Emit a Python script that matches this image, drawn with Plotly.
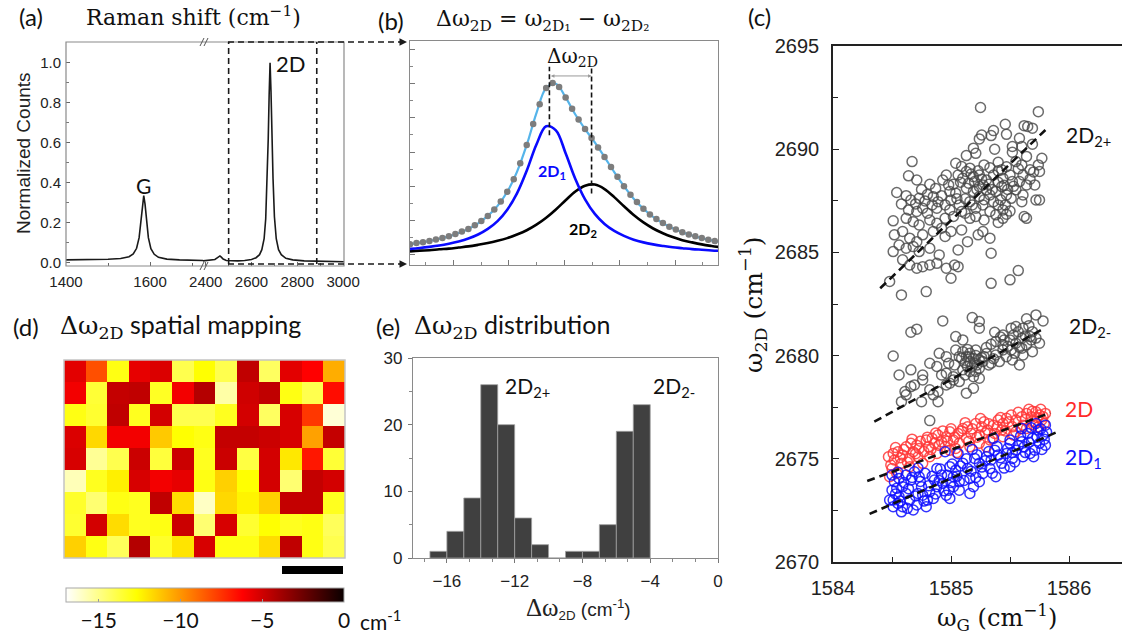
import plotly.graph_objects as go

W, H = 1122, 640


def px(x):
    return x / W


def py(y):
    return 1 - y / H


SANS = "Lato"
ARIAL = "Liberation Sans"
SERIF = "DejaVu Serif"

# ---------------- (a) Raman spectrum (broken x axis) ----------------
SPEC_LOW_X = [1400, 1450, 1500, 1530, 1550, 1560, 1568, 1574, 1578, 1582, 1585,
              1588, 1592, 1596, 1602, 1610, 1620, 1640, 1670, 1700, 1726]
SPEC_LOW_Y = [0.014, 0.015, 0.017, 0.021, 0.030, 0.044, 0.072, 0.125, 0.195, 0.294, 0.335,
              0.294, 0.195, 0.125, 0.070, 0.042, 0.027, 0.018, 0.014, 0.012, 0.011]
SPEC_HIGH_X = [2388, 2420, 2440, 2450, 2456, 2462, 2468, 2476, 2490, 2510, 2540, 2570,
               2600, 2620, 2635, 2645, 2655, 2662, 2668, 2673, 2677, 2681, 2685, 2689,
               2694, 2700, 2708, 2718, 2730, 2750, 2780, 2830, 2900, 3004]
SPEC_HIGH_Y = [0.009, 0.011, 0.016, 0.024, 0.031, 0.034, 0.028, 0.018, 0.011, 0.009, 0.009, 0.011,
               0.016, 0.025, 0.040, 0.065, 0.12, 0.22, 0.40, 0.62, 0.84, 1.00, 0.86, 0.64,
               0.42, 0.23, 0.12, 0.065, 0.040, 0.022, 0.014, 0.009, 0.006, 0.005]
ZOOM_WINDOW = [2500, 2885]

# ---------------- (b) 2D band fit ----------------
PB_X = list(range(2630, 2727, 3))
BLUE_Y = [0.072, 0.076, 0.081, 0.087, 0.095, 0.105, 0.118, 0.136, 0.161, 0.196, 0.247,
          0.320, 0.421, 0.538, 0.619, 0.601, 0.499, 0.384, 0.293, 0.228, 0.183, 0.152,
          0.130, 0.113, 0.101, 0.092, 0.085, 0.079, 0.075, 0.071, 0.068, 0.065, 0.063]
BLACK_Y = [0.061, 0.064, 0.066, 0.070, 0.073, 0.078, 0.083, 0.090, 0.098, 0.108, 0.120,
           0.136, 0.155, 0.180, 0.211, 0.248, 0.289, 0.328, 0.354, 0.359, 0.339, 0.303,
           0.262, 0.223, 0.190, 0.163, 0.142, 0.125, 0.111, 0.101, 0.092, 0.085, 0.079]
FIT_SUM_Y = [0.093, 0.100, 0.107, 0.117, 0.128, 0.143, 0.161, 0.186, 0.219, 0.264, 0.327,
             0.416, 0.536, 0.678, 0.790, 0.809, 0.748, 0.672, 0.607, 0.547, 0.482, 0.415,
             0.352, 0.296, 0.251, 0.215, 0.187, 0.164, 0.146, 0.132, 0.120, 0.110, 0.102]
DOT_X = list(range(2630, 2725, 2))
DOT_Y = [0.093, 0.098, 0.102, 0.107, 0.114, 0.121, 0.128, 0.138, 0.149, 0.161,
         0.177, 0.196, 0.219, 0.248, 0.283, 0.327, 0.383, 0.454, 0.536, 0.630,
         0.718, 0.790, 0.812, 0.795, 0.748, 0.697, 0.650, 0.607, 0.567, 0.525,
         0.482, 0.437, 0.394, 0.352, 0.314, 0.281, 0.251, 0.226, 0.205, 0.187,
         0.171, 0.158, 0.146, 0.136, 0.128, 0.120, 0.113, 0.107]
PEAK_POS = [2673, 2686]
PEAK_HEIGHT = [0.619, 0.359]
MARK_TOP = 0.885
ARROW_LEVEL = 0.844

# ---------------- (c) w2D vs wG ----------------
PTS_2D2_PLUS = [
    (1585.25, 2692.02), (1585.74, 2691.82), (1585.46, 2691.21), (1585.62, 2691.14), (1585.69, 2691.02),
    (1585.65, 2691.10), (1585.36, 2690.90), (1585.26, 2690.69), (1585.34, 2690.66), (1585.47, 2690.72),
    (1585.58, 2690.53), (1585.24, 2690.50), (1585.52, 2690.13), (1585.69, 2690.24), (1585.37, 2690.00),
    (1585.19, 2690.05), (1585.60, 2690.13), (1584.67, 2689.40), (1585.13, 2689.69), (1585.21, 2689.80),
    (1585.40, 2689.37), (1585.55, 2689.40), (1585.60, 2689.24), (1585.77, 2689.56), (1585.74, 2689.24),
    (1585.04, 2689.32), (1585.09, 2689.16), (1585.16, 2689.08), (1585.28, 2689.24), (1585.43, 2689.00),
    (1585.67, 2689.00), (1585.75, 2688.92), (1584.64, 2688.71), (1584.71, 2688.51), (1584.96, 2688.75),
    (1584.93, 2688.51), (1584.82, 2688.30), (1584.54, 2687.90), (1585.02, 2688.30), (1585.10, 2688.59),
    (1585.19, 2688.67), (1585.24, 2688.75), (1585.30, 2688.51), (1585.36, 2688.75), (1585.44, 2688.59),
    (1585.50, 2688.75), (1585.58, 2688.43), (1585.64, 2688.27), (1585.55, 2688.03), (1585.61, 2687.78),
    (1585.72, 2687.54), (1585.75, 2687.54), (1584.66, 2687.54), (1584.73, 2687.62), (1584.78, 2687.49),
    (1584.85, 2687.70), (1584.89, 2687.46), (1584.99, 2687.95), (1585.04, 2687.87), (1585.13, 2688.11),
    (1585.19, 2687.95), (1585.24, 2688.19), (1585.30, 2688.03), (1585.38, 2687.95), (1585.47, 2687.78),
    (1585.51, 2687.62), (1585.60, 2687.46), (1584.64, 2687.06), (1584.71, 2686.98), (1584.76, 2687.14),
    (1584.80, 2686.90), (1584.88, 2687.14), (1584.95, 2687.30), (1584.99, 2687.06), (1585.07, 2687.30),
    (1585.16, 2687.46), (1585.21, 2687.14), (1585.27, 2687.30), (1585.33, 2686.98), (1585.40, 2687.30),
    (1585.44, 2687.06), (1585.62, 2686.74), (1585.64, 2686.65), (1584.51, 2686.53), (1584.62, 2686.65),
    (1584.68, 2686.49), (1584.73, 2686.33), (1584.82, 2686.57), (1584.88, 2686.41), (1584.95, 2686.65),
    (1585.02, 2686.74), (1585.12, 2686.90), (1585.16, 2686.65), (1585.21, 2686.74), (1585.28, 2686.57),
    (1585.38, 2686.82), (1585.44, 2686.65), (1584.52, 2685.85), (1584.59, 2686.01), (1584.65, 2685.69),
    (1584.71, 2685.52), (1584.76, 2685.85), (1584.85, 2686.01), (1584.92, 2686.17), (1584.95, 2685.77),
    (1585.00, 2686.01), (1585.09, 2686.09), (1585.14, 2685.52), (1585.23, 2685.85), (1585.27, 2686.01),
    (1585.33, 2685.69), (1584.56, 2685.36), (1584.62, 2685.20), (1584.68, 2685.28), (1584.73, 2685.04),
    (1584.82, 2685.20), (1584.90, 2684.88), (1585.06, 2685.12), (1585.34, 2684.96), (1584.51, 2685.04),
    (1584.59, 2684.64), (1584.65, 2684.39), (1584.71, 2684.23), (1584.76, 2684.31), (1584.82, 2684.39),
    (1584.88, 2684.47), (1584.96, 2684.23), (1585.03, 2684.39), (1585.06, 2684.31), (1585.00, 2683.75),
    (1584.48, 2683.59), (1584.58, 2682.94), (1584.79, 2683.10), (1585.34, 2683.50), (1585.50, 2683.67),
    (1585.57, 2684.12), (1585.06, 2688.75), (1585.13, 2688.92), (1585.27, 2688.27), (1585.33, 2687.78),
    (1585.43, 2688.19), (1585.52, 2688.43), (1585.00, 2687.54), (1585.09, 2686.98), (1585.24, 2687.70),
    (1585.36, 2687.46), (1584.98, 2688.27), (1585.20, 2688.43), (1585.61, 2688.75), (1585.71, 2688.27),
    (1585.08, 2688.40), (1585.15, 2688.35), (1585.22, 2688.05), (1585.26, 2688.55), (1585.32, 2688.30),
    (1585.35, 2688.05), (1585.40, 2688.40), (1585.45, 2688.25), (1585.48, 2688.05), (1585.53, 2688.20),
    (1585.40, 2688.95), (1585.33, 2689.10), (1585.47, 2689.15), (1585.23, 2688.95), (1585.17, 2688.80),
    (1585.12, 2687.60), (1585.18, 2687.30), (1585.28, 2687.55), (1585.42, 2687.55), (1585.46, 2687.30),
    (1585.05, 2687.60), (1584.92, 2687.75), (1584.84, 2687.30), (1584.80, 2687.80), (1584.70, 2687.35),
    (1584.62, 2687.75), (1584.58, 2687.35), (1584.75, 2688.05), (1584.87, 2688.10), (1585.67, 2688.55),
    (1585.70, 2688.90), (1585.57, 2689.05), (1585.64, 2689.65), (1585.52, 2689.85), (1585.47, 2686.85),
    (1585.40, 2686.45), (1585.50, 2687.00),
]
PTS_2D2_MINUS = [
    (1584.93, 2681.68), (1585.18, 2681.84), (1585.24, 2681.65), (1585.24, 2681.33), (1585.72, 2681.97),
    (1585.78, 2681.68), (1585.64, 2681.78), (1584.66, 2681.13), (1584.71, 2681.28), (1585.04, 2680.92),
    (1585.10, 2680.76), (1585.37, 2681.13), (1585.44, 2681.00), (1585.51, 2681.33), (1585.55, 2681.41),
    (1585.61, 2681.33), (1585.69, 2681.16), (1585.75, 2680.60), (1585.69, 2680.19), (1584.51, 2679.98),
    (1584.90, 2680.11), (1584.96, 2679.95), (1585.04, 2680.27), (1585.10, 2680.19), (1585.16, 2680.11),
    (1585.21, 2680.27), (1585.30, 2680.39), (1585.38, 2680.68), (1585.44, 2680.52), (1585.50, 2680.76),
    (1585.55, 2680.60), (1585.60, 2680.84), (1585.64, 2680.52), (1585.68, 2680.76), (1584.82, 2679.63),
    (1584.88, 2679.47), (1584.98, 2679.63), (1585.03, 2679.55), (1585.09, 2679.87), (1585.13, 2679.95),
    (1585.16, 2679.71), (1585.19, 2679.87), (1585.24, 2679.79), (1585.28, 2679.95), (1585.34, 2679.63),
    (1585.41, 2679.71), (1585.47, 2679.95), (1585.52, 2679.79), (1585.58, 2679.55), (1585.54, 2680.11),
    (1585.61, 2680.03), (1584.56, 2679.06), (1584.66, 2679.31), (1584.76, 2679.06), (1584.76, 2678.82),
    (1584.92, 2679.06), (1584.96, 2679.15), (1585.02, 2678.98), (1585.10, 2679.31), (1585.16, 2679.23),
    (1585.21, 2679.23), (1585.19, 2678.98), (1585.24, 2679.39), (1585.32, 2679.55), (1584.61, 2678.26),
    (1584.66, 2678.50), (1584.69, 2678.58), (1584.62, 2678.10), (1584.82, 2678.34), (1584.89, 2678.26),
    (1584.85, 2678.10), (1584.96, 2678.58), (1584.99, 2678.66), (1585.07, 2678.74), (1585.13, 2678.18),
    (1585.19, 2678.42), (1585.24, 2678.90), (1584.58, 2677.77), (1584.75, 2677.77), (1584.89, 2677.77),
    (1585.02, 2678.82), (1585.12, 2679.06), (1585.14, 2679.47), (1585.20, 2679.63), (1585.27, 2679.71),
    (1585.38, 2680.03), (1585.44, 2680.27), (1585.51, 2680.27), (1585.60, 2680.36), (1585.67, 2680.92),
    (1584.82, 2676.85), (1585.12, 2679.65), (1585.15, 2679.95), (1585.18, 2679.50), (1585.21, 2680.00),
    (1585.22, 2679.55), (1585.26, 2679.90), (1585.07, 2679.95), (1585.14, 2680.30), (1585.30, 2680.10),
    (1585.36, 2679.85), (1585.45, 2680.75), (1585.48, 2680.45), (1585.53, 2681.00), (1585.58, 2680.40),
    (1585.63, 2680.95), (1585.66, 2681.45), (1585.72, 2680.85), (1585.57, 2681.15), (1585.42, 2680.90),
    (1585.34, 2680.55),
]
PTS_2D = [
    (1584.51, 2675.26), (1584.55, 2675.34), (1584.59, 2675.18), (1584.52, 2674.94), (1584.58, 2674.78),
    (1584.50, 2674.53), (1584.54, 2674.29), (1584.62, 2675.58), (1584.66, 2675.75), (1584.71, 2675.66),
    (1584.68, 2675.34), (1584.73, 2675.50), (1584.65, 2675.02), (1584.72, 2675.10), (1584.79, 2675.91),
    (1584.84, 2675.99), (1584.86, 2675.75), (1584.81, 2675.58), (1584.89, 2676.15), (1584.92, 2675.83),
    (1584.96, 2676.07), (1584.99, 2676.31), (1584.95, 2675.58), (1585.02, 2675.91), (1585.06, 2676.23),
    (1585.10, 2676.47), (1585.14, 2676.55), (1585.17, 2676.23), (1585.07, 2675.75), (1585.13, 2675.99),
    (1585.21, 2676.71), (1585.26, 2676.55), (1585.28, 2676.79), (1585.24, 2676.15), (1585.31, 2676.39),
    (1585.36, 2676.63), (1585.40, 2676.88), (1585.44, 2676.71), (1585.37, 2676.23), (1585.43, 2676.39),
    (1585.47, 2676.96), (1585.51, 2677.12), (1585.55, 2676.88), (1585.60, 2677.04), (1585.52, 2676.55),
    (1585.61, 2676.63), (1585.64, 2677.20), (1585.68, 2677.04), (1585.72, 2677.28), (1585.75, 2677.12),
    (1585.71, 2676.79), (1585.77, 2676.88), (1584.88, 2675.26), (1584.82, 2675.10), (1584.76, 2674.78),
    (1584.65, 2674.62), (1584.99, 2675.42), (1585.04, 2675.50), (1585.16, 2675.58), (1585.24, 2675.75),
    (1585.33, 2675.91), (1585.44, 2676.07), (1585.30, 2675.58), (1585.55, 2676.31), (1585.64, 2676.47),
    (1585.74, 2676.55), (1585.78, 2677.04), (1584.48, 2674.13), (1584.47, 2675.10),
    (1584.49, 2674.70), (1584.53, 2675.55), (1584.57, 2675.05), (1584.60, 2675.45), (1584.63, 2674.85),
    (1584.67, 2675.95), (1584.70, 2675.25), (1584.74, 2675.85), (1584.77, 2675.35), (1584.80, 2676.05),
    (1584.83, 2675.45), (1584.87, 2676.25), (1584.90, 2675.65), (1584.93, 2676.35), (1584.97, 2675.85),
    (1585.00, 2676.45), (1585.03, 2676.05), (1585.05, 2675.30), (1585.09, 2676.35), (1585.12, 2676.75),
    (1585.15, 2675.85), (1585.18, 2676.45), (1585.22, 2676.05), (1585.25, 2676.95), (1585.29, 2676.25),
    (1585.32, 2676.70), (1585.35, 2676.00), (1585.39, 2676.55), (1585.42, 2677.00), (1585.46, 2676.35),
    (1585.49, 2676.80), (1585.53, 2676.15), (1585.57, 2677.25), (1585.59, 2676.45), (1585.63, 2676.90),
    (1585.66, 2677.40), (1585.70, 2676.65), (1585.73, 2677.00), (1585.76, 2677.40), (1585.79, 2676.70),
    (1585.80, 2677.20), (1585.69, 2677.30),
]
PTS_2D1 = [
    (1584.50, 2674.21), (1584.52, 2673.89), (1584.56, 2674.05), (1584.50, 2673.48), (1584.54, 2673.57),
    (1584.59, 2673.65), (1584.51, 2673.00), (1584.56, 2673.16), (1584.62, 2673.32), (1584.51, 2672.68),
    (1584.58, 2672.43), (1584.55, 2672.84), (1584.65, 2673.00), (1584.71, 2672.76), (1584.68, 2672.52),
    (1584.79, 2672.68), (1584.66, 2673.97), (1584.69, 2674.37), (1584.73, 2674.13), (1584.75, 2673.65),
    (1584.76, 2673.24), (1584.82, 2673.40), (1584.80, 2673.00), (1584.88, 2673.65), (1584.86, 2673.97),
    (1584.92, 2674.21), (1584.93, 2673.81), (1584.96, 2673.24), (1584.98, 2673.48), (1585.02, 2674.13),
    (1584.99, 2674.62), (1585.04, 2674.45), (1585.07, 2673.89), (1585.07, 2673.48), (1585.10, 2674.78),
    (1585.14, 2674.53), (1585.16, 2674.05), (1585.19, 2673.65), (1585.20, 2675.02), (1585.24, 2674.78),
    (1585.27, 2674.29), (1585.30, 2675.10), (1585.34, 2674.94), (1585.33, 2674.53), (1585.37, 2675.42),
    (1585.40, 2675.18), (1585.43, 2674.78), (1585.47, 2675.26), (1585.50, 2675.75), (1585.52, 2675.02),
    (1585.55, 2675.42), (1585.60, 2675.83), (1585.62, 2675.58), (1585.65, 2676.23), (1585.67, 2675.26),
    (1585.69, 2675.99), (1585.74, 2676.39), (1585.75, 2675.75), (1585.78, 2676.15), (1585.80, 2676.63),
    (1585.72, 2676.71), (1585.60, 2676.47), (1584.95, 2675.34), (1585.36, 2675.99), (1585.50, 2675.91),
    (1584.48, 2673.00), (1584.59, 2672.68), (1584.72, 2673.32), (1584.85, 2673.08), (1584.99, 2673.08),
    (1585.16, 2673.32), (1585.24, 2673.89), (1585.38, 2674.13), (1584.88, 2674.53), (1584.62, 2674.21),
    (1585.50, 2674.62), (1585.61, 2675.10), (1585.71, 2675.42), (1585.80, 2675.66), (1585.02, 2673.65),
    (1584.53, 2673.30), (1584.57, 2672.95), (1584.60, 2673.85), (1584.63, 2672.60), (1584.64, 2673.55),
    (1584.67, 2674.10), (1584.70, 2673.20), (1584.74, 2673.90), (1584.77, 2672.95), (1584.78, 2674.30),
    (1584.81, 2673.70), (1584.84, 2674.15), (1584.87, 2673.30), (1584.90, 2673.95), (1584.91, 2674.50),
    (1584.94, 2673.45), (1584.97, 2674.20), (1585.00, 2673.85), (1585.01, 2674.75), (1585.05, 2674.15),
    (1585.08, 2674.65), (1585.11, 2673.95), (1585.13, 2675.00), (1585.17, 2674.40), (1585.21, 2674.10),
    (1585.22, 2675.20), (1585.26, 2674.60), (1585.29, 2674.90), (1585.32, 2675.35), (1585.35, 2674.30),
    (1585.39, 2675.60), (1585.42, 2675.05), (1585.45, 2674.55), (1585.48, 2675.50), (1585.52, 2675.30),
    (1585.54, 2674.85), (1585.57, 2675.65), (1585.59, 2676.10), (1585.63, 2675.30), (1585.66, 2675.80),
    (1585.68, 2676.50), (1585.70, 2675.10), (1585.73, 2676.05), (1585.76, 2676.45), (1585.77, 2675.45),
    (1585.79, 2675.95), (1585.81, 2676.30), (1584.55, 2674.35), (1584.72, 2674.55), (1585.06, 2675.25),
    (1585.18, 2675.45),
]
# linear fits: (start point, end point)
FITS = [
    ((1584.40, 2683.26), (1585.80, 2690.93)),
    ((1584.35, 2676.80), (1585.79, 2681.32)),
    ((1584.29, 2673.92), (1585.84, 2677.23)),
    ((1584.31, 2672.33), (1585.92, 2676.35)),
]

# ---------------- (d) spatial map of the 2D splitting (cm-1) ----------------
MAP_Z = [
    [-5.5, -8.2, -13.0, -5.6, -5.3, -14.0, -12.7, -14.0, -4.6, -14.3, -5.5, -6.2, -10.6],
    [-5.9, -13.6, -4.7, -4.6, -13.3, -5.9, -4.3, -15.5, -5.0, -4.6, -13.0, -14.0, -6.5],
    [-13.0, -13.5, -4.6, -13.2, -5.1, -14.0, -14.0, -13.2, -5.1, -14.3, -5.2, -7.6, -16.3],
    [-5.3, -11.7, -5.9, -5.9, -11.3, -12.7, -13.0, -4.7, -4.7, -4.9, -5.2, -10.3, -4.7],
    [-5.2, -15.2, -14.0, -4.9, -13.7, -4.9, -13.2, -4.9, -13.8, -5.1, -12.1, -6.8, -13.6],
    [-15.8, -13.2, -12.3, -5.2, -5.9, -5.6, -13.0, -11.5, -12.7, -5.1, -14.6, -4.7, -5.1],
    [-13.4, -14.6, -13.0, -13.2, -4.6, -11.8, -16.0, -11.7, -12.4, -11.5, -4.7, -4.7, -13.2],
    [-13.5, -5.1, -11.8, -13.2, -13.0, -4.9, -14.6, -5.2, -13.5, -12.7, -13.2, -13.0, -14.2],
    [-11.5, -13.0, -14.2, -4.3, -13.4, -12.0, -5.2, -13.0, -13.0, -11.8, -4.6, -13.0, -14.0],
]
MAP_RANGE = [-17, 0]
HOT_R = [[0.0, "rgb(255,255,255)"], [0.254, "rgb(255,255,0)"],
         [0.635, "rgb(255,0,0)"], [1.0, "rgb(10,0,0)"]]

# ---------------- (e) histogram of the splitting ----------------
HIST_LEFT_EDGES = [-17, -16, -15, -14, -13, -12, -11, -10, -9, -8, -7, -6, -5]
HIST_COUNTS = [1, 4, 9, 26, 20, 6, 2, 0, 1, 1, 5, 19, 23]

fig = go.Figure()

# (a)
line_a = dict(color="#1a1a1a", width=1.6)
fig.add_trace(go.Scatter(x=SPEC_LOW_X, y=SPEC_LOW_Y, xaxis="x", yaxis="y", mode="lines",
                         line=line_a, showlegend=False, hoverinfo="skip"))
fig.add_trace(go.Scatter(x=SPEC_HIGH_X, y=SPEC_HIGH_Y, xaxis="x2", yaxis="y", mode="lines",
                         line=line_a, showlegend=False, hoverinfo="skip"))

# (b)
fig.add_trace(go.Scatter(x=PB_X, y=BLACK_Y, xaxis="x3", yaxis="y3", mode="lines",
                         line=dict(color="#000000", width=2.6, shape="spline"),
                         showlegend=False, hoverinfo="skip"))
fig.add_trace(go.Scatter(x=PB_X, y=BLUE_Y, xaxis="x3", yaxis="y3", mode="lines",
                         line=dict(color="#0a0aff", width=2.6, shape="spline"),
                         showlegend=False, hoverinfo="skip"))
fig.add_trace(go.Scatter(x=PB_X, y=FIT_SUM_Y, xaxis="x3", yaxis="y3", mode="lines",
                         line=dict(color="#55b4ea", width=2.2, shape="spline"),
                         showlegend=False, hoverinfo="skip"))
fig.add_trace(go.Scatter(x=DOT_X, y=DOT_Y, xaxis="x3", yaxis="y3", mode="markers",
                         marker=dict(color="#7d7d7d", size=6.5),
                         showlegend=False, hoverinfo="skip"))
for xp, hp in zip(PEAK_POS, PEAK_HEIGHT):
    fig.add_trace(go.Scatter(x=[xp, xp], y=[hp - 0.04, MARK_TOP], xaxis="x3", yaxis="y3",
                             mode="lines", line=dict(color="#111", width=1.6, dash="5px,3px"),
                             showlegend=False, hoverinfo="skip"))
fig.add_annotation(x=PEAK_POS[1], y=ARROW_LEVEL, ax=PEAK_POS[0], ay=ARROW_LEVEL,
                   xref="x3", yref="y3", axref="x3", ayref="y3", text="",
                   showarrow=True, arrowhead=2, arrowside="end+start",
                   arrowsize=0.7, arrowwidth=1, arrowcolor="#9a9a9a")


# (c)
def add_cloud(pts, color):
    xs, ys = zip(*pts)
    fig.add_trace(go.Scatter(x=xs, y=ys, xaxis="x4", yaxis="y4", mode="markers",
                             marker=dict(symbol="circle-open", size=10, color=color,
                                         line=dict(width=1.5)),
                             showlegend=False, hoverinfo="skip"))


add_cloud(PTS_2D, "rgba(255,55,55,0.85)")
add_cloud(PTS_2D1, "rgba(15,15,255,0.85)")
add_cloud(PTS_2D2_MINUS, "rgba(70,70,70,0.8)")
add_cloud(PTS_2D2_PLUS, "rgba(70,70,70,0.8)")
for (x0, y0), (x1, y1) in FITS:
    fig.add_trace(go.Scatter(x=[x0, x1], y=[y0, y1], xaxis="x4", yaxis="y4", mode="lines",
                             line=dict(color="#111", width=2.6, dash="8px,5px"),
                             showlegend=False, hoverinfo="skip"))

# (d)
fig.add_trace(go.Heatmap(
    z=MAP_Z, xaxis="x5", yaxis="y5", colorscale=HOT_R, zmin=MAP_RANGE[0], zmax=MAP_RANGE[1],
    hoverinfo="skip",
    colorbar=dict(orientation="h", x=px(205), xanchor="center", y=py(588), yanchor="top",
                  lenmode="pixels", len=278, thicknessmode="pixels", thickness=14,
                  xpad=0, ypad=0, outlinewidth=1, outlinecolor="#a8a8a8",
                  tickvals=[-15, -10, -5, 0], ticks="inside", ticklen=3, tickcolor="#999",
                  tickfont=dict(family=SANS, size=21, color="#111"))))

# (e)
fig.add_trace(go.Bar(x=[e + 0.5 for e in HIST_LEFT_EDGES], y=HIST_COUNTS, width=1,
                     xaxis="x6", yaxis="y6",
                     marker=dict(color="#404040", line=dict(color="#a0a0a0", width=0.8)),
                     showlegend=False, hoverinfo="skip"))

tick_a = dict(family=ARIAL, size=15, color="#222")
tick_c = dict(family=ARIAL, size=20, color="#222")
tick_e = dict(family=ARIAL, size=17, color="#222")
plain = dict(showgrid=False, zeroline=False)

fig.update_layout(
    width=W, height=H, margin=dict(l=0, r=0, t=0, b=0, autoexpand=False), autosize=False,
    paper_bgcolor="white", plot_bgcolor="rgba(0,0,0,0)", showlegend=False,
    xaxis=dict(domain=[px(66), px(203)], range=[1400, 1726], anchor="y",
               tickvals=[1400, 1600], ticks="inside", ticklen=4, tickcolor="#666",
               minor=dict(tickvals=[1500, 1700], ticks="inside", ticklen=3, tickcolor="#666"),
               showline=False, tickfont=tick_a, ticklabelstandoff=5, **plain),
    xaxis2=dict(domain=[px(203), px(344)], range=[2388, 3004], anchor="y",
                tickvals=[2400, 2600, 2800, 3000], ticks="inside", ticklen=4, tickcolor="#666",
                minor=dict(tickvals=[2500, 2700, 2900], ticks="inside", ticklen=3, tickcolor="#666"),
                showline=False, tickfont=tick_a, ticklabelstandoff=5, **plain),
    yaxis=dict(domain=[py(266), py(42)], range=[-0.0165, 1.1035], anchor="x",
               tickvals=[0, 0.2, 0.4, 0.6, 0.8, 1.0],
               ticktext=["0.0", "0.2", "0.4", "0.6", "0.8", "1.0"],
               ticks="inside", ticklen=4, tickcolor="#666",
               minor=dict(dtick=0.1, tick0=0, ticks="inside", ticklen=2.5, tickcolor="#777"),
               showline=False, tickfont=tick_a, ticklabelstandoff=4, **plain),
    xaxis3=dict(domain=[px(410), px(718)], range=[2630, 2725], anchor="y3",
                showticklabels=False, ticks="inside", ticklen=5, tickcolor="#777",
                tick0=2643.4, dtick=17.1,
                minor=dict(tick0=2643.4, dtick=8.55, ticks="inside", ticklen=3, tickcolor="#888"),
                showline=True, linecolor="#8a8a8a", linewidth=1.2, mirror=True, **plain),
    yaxis3=dict(domain=[py(265), py(41)], range=[0, 1], anchor="x3",
                showticklabels=False, ticks="inside", ticklen=5, tickcolor="#777",
                tick0=0.045, dtick=0.153,
                minor=dict(tick0=0.045, dtick=0.0765, ticks="inside", ticklen=3, tickcolor="#888"),
                showline=True, linecolor="#8a8a8a", linewidth=1.2, mirror=True, **plain),
    xaxis4=dict(domain=[px(833), 1.0], range=[1584, 1586.449], anchor="y4",
                tickvals=[1584, 1585, 1586], ticks="inside", ticklen=6, tickcolor="#222",
                minor=dict(tickvals=[1584.5, 1585.5], ticks="inside", ticklen=5, tickcolor="#222"),
                showline=True, linecolor="#222", linewidth=1.5, mirror=True,
                tickfont=tick_c, ticklabelstandoff=7, **plain),
    yaxis4=dict(domain=[py(562), py(46)], range=[2670, 2695], anchor="x4",
                tickvals=[2670, 2675, 2680, 2685, 2690, 2695], ticks="inside", ticklen=6,
                tickcolor="#222",
                minor=dict(tick0=2670, dtick=2.5, ticks="inside", ticklen=5, tickcolor="#222"),
                showline=True, linecolor="#222", linewidth=1.5,
                tickfont=tick_c, ticklabelstandoff=8, **plain),
    xaxis5=dict(domain=[px(64), px(345)], range=[-0.5, 12.5], anchor="y5", visible=False),
    yaxis5=dict(domain=[py(558), py(360)], range=[8.5, -0.5], anchor="x5", visible=False),
    xaxis6=dict(domain=[px(413), px(718)], range=[-18, 0], anchor="y6",
                tickvals=[-16, -12, -8, -4, 0], ticks="outside", ticklen=4, tickcolor="#777",
                minor=dict(tick0=0, dtick=4 / 3, ticks="outside", ticklen=3, tickcolor="#888"),
                showline=True, linecolor="#8a8a8a", linewidth=1.2, mirror=True,
                tickfont=tick_e, ticklabelstandoff=3, **plain),
    yaxis6=dict(domain=[py(558), py(358)], range=[0, 30], anchor="x6",
                tickvals=[0, 10, 20, 30], ticks="outside", ticklen=4, tickcolor="#777",
                minor=dict(tick0=0, dtick=5, ticks="outside", ticklen=2.5, tickcolor="#888"),
                showline=True, linecolor="#8a8a8a", linewidth=1.2, mirror=True,
                tickfont=tick_e, ticklabelstandoff=2, **plain),
)

shapes = []
# frame of (a) with axis-break marks
shapes.append(dict(type="rect", xref="paper", yref="paper", x0=px(66), x1=px(344),
                   y0=py(266), y1=py(42), line=dict(color="#8a8a8a", width=1.2)))
for yb in (42, 266):
    for dx in (0, 4):
        shapes.append(dict(type="line", xref="paper", yref="paper",
                           x0=px(200 + dx), y0=py(yb + 4), x1=px(204 + dx), y1=py(yb - 4),
                           line=dict(color="#555", width=1)))
# zoom window in (a) and its connectors to (b)
dash_ln = dict(color="#1a1a1a", width=1.6, dash="6px,4px")
for xw in ZOOM_WINDOW:
    shapes.append(dict(type="line", xref="x2", yref="paper", x0=xw, x1=xw,
                       y0=py(264), y1=py(42), line=dash_ln))
shapes.append(dict(type="line", xref="paper", yref="paper", x0=px(228), x1=px(400),
                   y0=py(42), y1=py(42), line=dash_ln))
shapes.append(dict(type="line", xref="paper", yref="paper", x0=px(228), x1=px(400),
                   y0=py(264), y1=py(264), line=dash_ln))
# heat-map frame and scale bar
shapes.append(dict(type="rect", xref="paper", yref="paper", x0=px(64), x1=px(345),
                   y0=py(558), y1=py(360), line=dict(color="#c4c4c4", width=1.5)))
shapes.append(dict(type="rect", xref="paper", yref="paper", x0=px(282), x1=px(343),
                   y0=py(574), y1=py(566), line=dict(width=0), fillcolor="#000"))
fig.update_layout(shapes=shapes)

for yb in (42, 264):
    fig.add_annotation(x=px(407), y=py(yb), xref="paper", yref="paper", ax=-9, ay=0,
                       text="", showarrow=True, arrowhead=2, arrowsize=1,
                       arrowwidth=1.5, arrowcolor="#1a1a1a")


def label(text, x, y, size, family=SANS, color="#111", angle=0):
    fig.add_annotation(text=text, x=px(x), y=py(y), xref="paper", yref="paper",
                       showarrow=False, xanchor="center", yanchor="middle",
                       textangle=angle, borderpad=0,
                       font=dict(family=family, size=size, color=color))


SER = '<span style="font-family:DejaVu Serif">'
# (a)
label("(a)", 31, 16, 24)
label("Raman shift (cm<sup>−1</sup>)", 193, 16, 22, SERIF)
label("Normalized Counts", 24, 153, 19, ARIAL, "#222", -90)
label("G", 143, 185, 21)
label("2D", 291, 64, 22)
# (b)
label("(b)", 391, 20, 24)
label("Δω<sub>2D</sub> = ω<sub>2D₁</sub> − ω<sub>2D₂</sub>", 542, 20, 22, SERIF)
label("Δω<sub>2D</sub>", 572, 57, 20, SERIF)
label("<b>2D<sub>1</sub></b>", 552, 171, 16, SANS, "#0a0aff")
label("<b>2D<sub>2</sub></b>", 583, 229, 16, SANS, "#000")
# (c)
label("(c)", 759, 16, 24)
label("2D<sub>2+</sub>", 1088, 136, 21)
label("2D<sub>2-</sub>", 1090, 327, 21)
label("2D", 1079, 408, 21, SANS, "#ff2a2a")
label("2D<sub>1</sub>", 1083, 458, 21, SANS, "#1010ff")
label("ω<sub>2D</sub> (cm<sup>−1</sup>)", 753, 305, 25, SERIF, "#111", -90)
label("ω<sub>G</sub> (cm<sup>−1</sup>)", 997, 617, 24, SERIF)
# (d)
label("(d)", 26, 326, 24)
label(SER + "Δω<sub>2D</sub></span> spatial mapping", 180, 326, 25)
label("cm<sup>-1</sup>", 380, 620, 21)
# (e)
label("(e)", 388, 326, 24)
label(SER + "Δω<sub>2D</sub></span> distribution", 512, 326, 25)
label("2D<sub>2+</sub>", 527, 387, 21)
label("2D<sub>2-</sub>", 674, 387, 21)
label('<span style="font-family:Liberation Serif;font-size:25px">Δω</span>'
      '<sub>2D</sub> (cm<sup>-1</sup>)', 578, 608, 19, ARIAL, "#222")

fig.write_html("out.html")
